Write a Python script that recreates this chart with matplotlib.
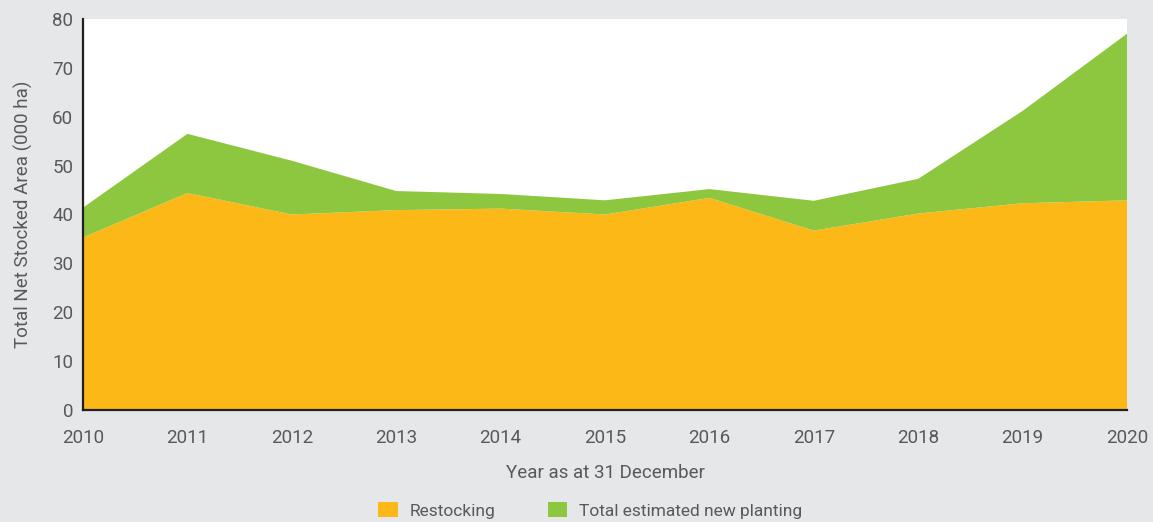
import matplotlib.pyplot as plt
import numpy as np
from matplotlib.patches import Patch

# Data (000 ha)
years = [2010, 2011, 2012, 2013, 2014, 2015, 2016, 2017, 2018, 2019, 2020]
restocking = [35.3, 44.4, 40.0, 40.9, 41.2, 40.0, 43.4, 36.7, 40.2, 42.3, 42.9]
total = [41.4, 56.5, 51.0, 44.8, 44.2, 42.9, 45.2, 42.8, 47.3, 61.2, 77.0]
new_planting = [t - r for t, r in zip(total, restocking)]

series_labels = ["Restocking", "Total estimated new planting"]
colors = ["#fbb817", "#8dc63f"]
text_color = "#58595b"
bg = "#e6e7e9"

plt.rcParams['font.family'] = ['Roboto', 'DejaVu Sans']

fig = plt.figure(figsize=(11.53, 5.22), dpi=100)
fig.patch.set_facecolor(bg)
ax = fig.add_axes([0.072, 0.2146, 0.9055, 0.749])
ax.set_facecolor("white")

ax.stackplot(years, restocking, new_planting, colors=colors, linewidth=0)

ax.set_xlim(years[0], years[-1])
ax.set_ylim(0, 80)
ax.set_xticks(years)
ax.set_yticks(np.arange(0, 81, 10))
ax.tick_params(length=0, labelsize=13.5, labelcolor=text_color)
ax.tick_params(axis="x", pad=14)
ax.tick_params(axis="y", pad=7)

for side in ["top", "right"]:
    ax.spines[side].set_visible(False)
for side in ["left", "bottom"]:
    ax.spines[side].set_color("#231f20")
    ax.spines[side].set_linewidth(1.6)

ax.set_xlabel("Year as at 31 December", fontsize=13.5, color=text_color, labelpad=12)
ax.set_ylabel("Total Net Stocked Area (000 ha)", fontsize=13.5, color=text_color, labelpad=14)

handles = [Patch(facecolor=c, edgecolor="none") for c in colors]
fig.legend(handles, series_labels, loc="center", bbox_to_anchor=(0.512, 0.022),
           ncol=2, frameon=False, fontsize=12.5, handlelength=1.1, handleheight=0.9,
           columnspacing=3.0, handletextpad=0.7, labelcolor=text_color)

plt.savefig("out.png", dpi=100, facecolor=bg)
